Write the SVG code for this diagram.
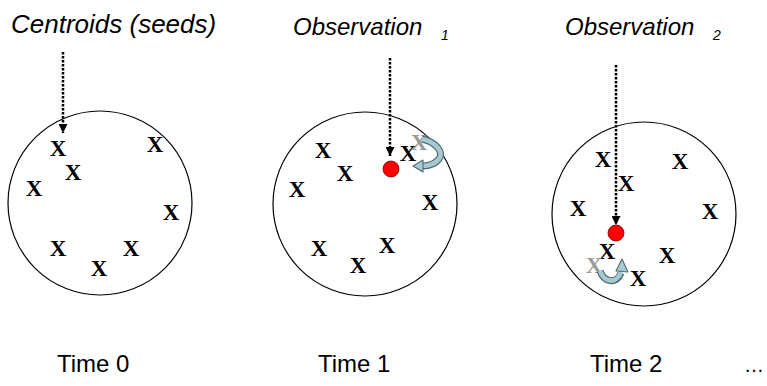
<svg xmlns="http://www.w3.org/2000/svg" width="767" height="386" viewBox="0 0 767 386">
<style>
.title{font-family:"Liberation Sans",Arial,sans-serif;font-style:italic;font-size:24px;fill:#000}
.sub{font-size:14px}
.time{font-family:"Liberation Sans",Arial,sans-serif;font-size:24px;fill:#000}
.x{font-family:"Liberation Serif","Times New Roman",serif;font-weight:bold;font-size:23px;fill:#000;text-anchor:middle}
.xg{fill:#9a9a9a}
.circ{fill:#fff;stroke:#000;stroke-width:1.2}
.dot{fill:#ff0000;stroke:#7a0000;stroke-width:0.8}
.dash{fill:none;stroke:#000;stroke-width:2.5;stroke-dasharray:2.5 1.5}
.cbo{fill:none;stroke:#4d6c74;stroke-width:7}
.cbi{fill:none;stroke:#a9c9d1;stroke-width:4.6}
.chead{fill:#a9c9d1;stroke:#4d6c74;stroke-width:1.1;stroke-linejoin:round}
</style>
<defs>
<marker id="ah" viewBox="0 0 10 10" refX="10" refY="5" markerWidth="3.6" markerHeight="3.6" orient="auto" markerUnits="strokeWidth">
<path d="M0,0 L10,5 L0,10 Z" fill="#000"/>
</marker>
</defs>

<g id="time0">
<text class="title" x="11" y="33" style="font-size:26px">Centroids (seeds)</text>
<circle class="circ" cx="100" cy="203" r="92"/>
<text class="x" x="58" y="156">X</text>
<text class="x" x="155" y="152">X</text>
<text class="x" x="73" y="180">X</text>
<text class="x" x="34" y="196">X</text>
<text class="x" x="171" y="220">X</text>
<text class="x" x="58" y="256">X</text>
<text class="x" x="131" y="256">X</text>
<text class="x" x="99" y="276">X</text>
<text class="time" x="57" y="372">Time 0</text>
</g>

<g id="time1">
<text class="title" x="293" y="35">Observation <tspan class="sub" x="441" dy="5">1</tspan></text>
<circle class="circ" cx="365" cy="204" r="92"/>
<text class="x" x="323" y="158">X</text>
<text class="x" x="345" y="181">X</text>
<text class="x" x="297" y="197">X</text>
<text class="x" x="430" y="210">X</text>
<text class="x" x="319" y="256">X</text>
<text class="x" x="387" y="253">X</text>
<text class="x" x="358" y="273">X</text>
<text class="x" x="408" y="161">X</text>
<text class="x xg" x="419" y="150">X</text>
<circle class="dot" cx="391" cy="169" r="8"/>
<text class="time" x="318" y="372">Time 1</text>
</g>

<g id="time2">
<text class="title" x="565" y="35">Observation <tspan class="sub" x="713" dy="5">2</tspan></text>
<circle class="circ" cx="644" cy="214" r="92"/>
<text class="x" x="603" y="167">X</text>
<text class="x" x="680" y="169">X</text>
<text class="x" x="626" y="191">X</text>
<text class="x" x="578" y="216">X</text>
<text class="x" x="710" y="219">X</text>
<text class="x" x="667" y="263">X</text>
<text class="x" x="638" y="286">X</text>
<text class="x" x="607" y="259">X</text>
<text class="x xg" x="594" y="273">X</text>
<circle class="dot" cx="616" cy="233" r="8"/>
<text class="time" x="590" y="372">Time 2</text>
<text class="time" x="744" y="372" style="font-size:20px">…</text>
</g>

<g id="connectors">
<line class="dash" x1="63" y1="52" x2="63" y2="133" marker-end="url(#ah)"/>
<line class="dash" x1="390" y1="58" x2="390" y2="156" marker-end="url(#ah)"/>
<line class="dash" x1="616" y1="65" x2="616" y2="225" marker-end="url(#ah)"/>
<g id="move1">
<path class="cbo" d="M422 139 C436 142 444 152 439 159 C435 164 430 166 423 166"/>
<path class="cbi" d="M422 139 C436 142 444 152 439 159 C435 164 430 166 422 166"/>
<polygon class="chead" points="413,166 423,160 423,172"/>
</g>
<g id="move2">
<path class="cbo" d="M600 271 C604 282 616 285 621 273"/>
<path class="cbi" d="M600 271 C604 282 616 285 621 272"/>
<polygon class="chead" points="622,259 616,271 628,272"/>
</g>
</g>
</svg>
